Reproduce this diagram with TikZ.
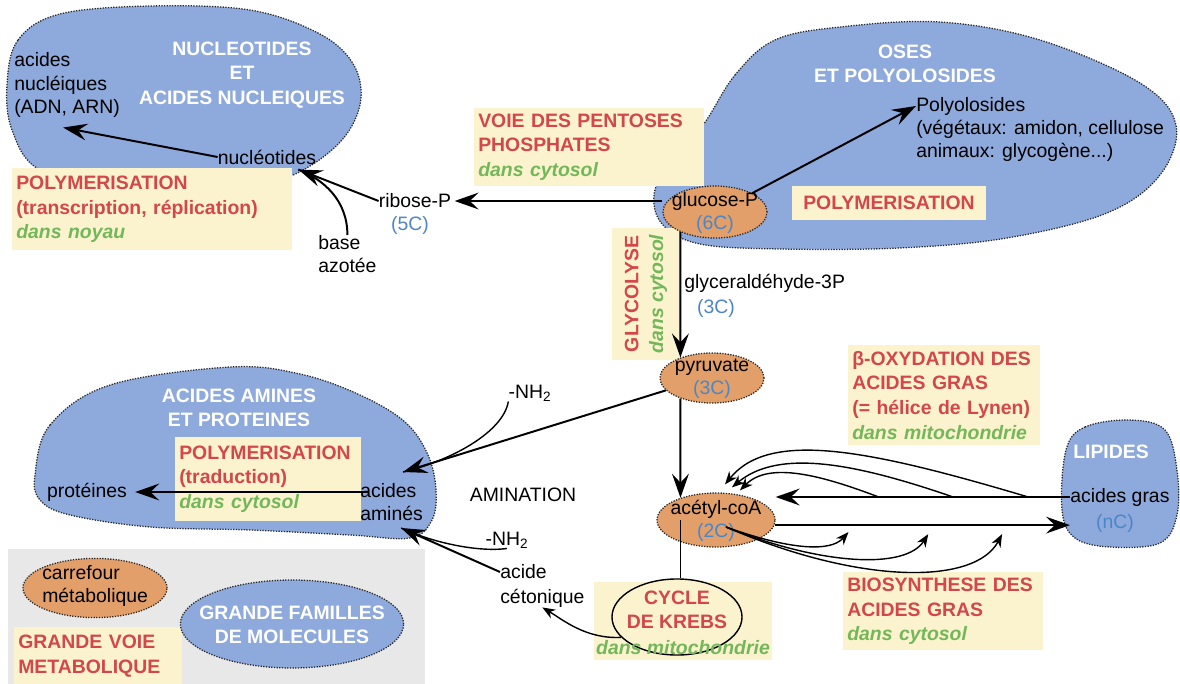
\documentclass[tikz,border=0pt]{standalone}
\usepackage{fontspec}
\setmainfont{Liberation Sans}
\usepackage{tikz}
\usetikzlibrary{arrows.meta,shapes.geometric,calc}

\definecolor{famille}{RGB}{142,169,219}
\definecolor{carrefour}{RGB}{226,159,105}
\definecolor{voie}{RGB}{250,243,206}
\definecolor{rouge}{RGB}{211,71,74}
\definecolor{vert}{RGB}{116,183,90}
\definecolor{bleuC}{RGB}{76,134,199}
\definecolor{gris}{RGB}{232,232,232}

\newcommand{\corps}{\fontsize{13.8}{16.5}\selectfont}
\newcommand{\gras}{\fontsize{13.8}{17.5}\selectfont\bfseries}
\newcommand{\lieu}[1]{{\color{vert}\itshape #1}}
\newcommand{\nbC}[1]{{\color{bleuC}#1}}

\tikzset{
  famille/.style={fill=famille, draw=black!85, densely dotted, line width=0.9pt},
  carref/.style={ellipse, fill=carrefour, draw=black!85, densely dotted, line width=0.9pt},
  voiebox/.style={fill=voie, inner xsep=0.1cm, inner ysep=0pt, align=left, text=rouge, font=\gras},
  titre/.style={text=white, font=\gras, align=center},
  lien/.style={line width=1.4pt},
  fleche/.style={-{Stealth[length=0.6cm, width=0.42cm, inset=0.22cm]}, line width=1.4pt},
  petite/.style={-{Stealth[length=0.32cm, width=0.25cm, inset=0.1cm]}, line width=1pt}
}

\begin{document}
\begin{tikzpicture}[x=0.025cm, y=-0.025cm, font=\corps, inner sep=0pt]
\useasboundingbox (0,0) rectangle (1180,684);
\fill[gris] (8,549) rectangle (425,684);

\draw[famille] plot[smooth cycle, tension=0.6] coordinates {(7,85) (18,40) (60,14) (150,6) (250,10) (318,33) (352,62) (361,98) (346,135) (310,166) (262,186) (200,192) (120,190) (40,170) (12,130)};
\draw[famille] plot[smooth cycle, tension=0.6] coordinates {(703,125) (735,75) (775,40) (840,27) (940,22) (1040,40) (1140,83) (1176,125) (1160,175) (1107,213) (1007,238) (900,248) (780,249) (700,244) (663,225) (654,195) (670,160)};
\draw[famille] plot[smooth cycle, tension=0.6] coordinates {(35,475) (50,425) (110,385) (230,367) (300,374) (360,395) (405,422) (428,455) (436,490) (432,520) (410,538) (350,535) (250,530) (150,527) (70,515) (40,500)};
\draw[famille] plot[smooth cycle, tension=0.6] coordinates {(1066,450) (1085,427) (1130,420) (1165,430) (1177,470) (1177,515) (1160,543) (1110,547) (1075,538) (1062,510)};

\node[voiebox, anchor=north west, minimum width=7cm, minimum height=2.05cm, text width=6.8cm] (polyn) at (12,168) {POLYMERISATION\\(transcription, réplication)\\\lieu{dans noyau}};
\node[voiebox, anchor=north west, minimum width=5.75cm, minimum height=1.93cm, text width=5.55cm] (pentose) at (474,108) {VOIE DES PENTOSES\\PHOSPHATES\\\lieu{dans cytosol}};
\node[voiebox, minimum width=4.85cm, minimum height=0.85cm, align=center] (polyose) at (889,203) {POLYMERISATION};
\node[voiebox, rotate=90, minimum width=3.3cm, minimum height=1.7cm, align=center] (glyco) at (646,294) {GLYCOLYSE\\\lieu{dans cytosol}};
\node[voiebox, anchor=north west, minimum width=4.8cm, minimum height=2.5cm, text width=4.6cm] (betaox) at (848,345) {β-OXYDATION DES\\ACIDES GRAS\\(= hélice de Lynen)\\\lieu{dans mitochondrie}};
\node[voiebox, anchor=north west, minimum width=4.98cm, minimum height=1.95cm, text width=4.78cm] (biosyn) at (843,572) {BIOSYNTHESE DES\\ACIDES GRAS\\\lieu{dans cytosol}};
\node[voiebox, minimum width=4.45cm, minimum height=1.95cm] (kbox) at (683,621) {};
\node[voiebox, anchor=north west, minimum width=4.63cm, minimum height=2.08cm, text width=4.43cm] (trad) at (175,437) {POLYMERISATION\\(traduction)\\\lieu{dans cytosol}};
\node[voiebox, anchor=north west, minimum width=4.18cm, minimum height=1.43cm, text width=3.98cm] (legvoie) at (14,627) {GRANDE VOIE\\METABOLIQUE};

\node[carref, minimum width=2.6cm, minimum height=1.3cm] (glucose) at (715,212) {};
\node[carref, minimum width=2.6cm, minimum height=1.25cm] (pyruvate) at (712,378) {};
\node[carref, minimum width=2.95cm, minimum height=1.35cm] (acetyl) at (716,520) {};
\node[ellipse, draw, fill=voie, line width=1pt, minimum width=3.25cm, minimum height=1.9cm] (krebs) at (677,617) {};
\node[carref, minimum width=3.6cm, minimum height=1.48cm] (legcarr) at (95,588) {};
\node[ellipse, fill=famille, draw=black!85, densely dotted, line width=0.9pt, minimum width=5.58cm, minimum height=2.2cm] (legfam) at (292,624) {};

\node[titre] (ntitre) at (242,75) {NUCLEOTIDES\\ET\\ACIDES NUCLEIQUES};
\node[anchor=west, align=left] (nacides) at (14,85) {acides\\nucléiques\\(ADN, ARN)};
\node (nucleo) at (267,157) {nucléotides};
\node (ribose) at (415,201) {ribose-P};
\node (c5) at (410,225) {\nbC{(5C)}};
\node[anchor=west, align=left] (base) at (318,254) {base\\azotée};
\node[align=center] (glucoset) at (715,213) {glucose-P\\\nbC{(6C)}};
\node[titre] (otitre) at (905,64) {OSES\\ET POLYOLOSIDES};
\node[anchor=west] (polyo) at (916,106) {Polyolosides};
\node[anchor=west, align=left] (polyex) at (916,141) {(végétaux: amidon, cellulose\\animaux: glycogène...)};
\node[anchor=west] (g3p) at (684,283) {glyceraldéhyde-3P};
\node (c3) at (716,308) {\nbC{(3C)}};
\node[align=center] (pyrut) at (712,379) {pyruvate\\\nbC{(3C)}};
\node[align=center] (acetylt) at (716,521) {acétyl-coA\\\nbC{(2C)}};
\node[titre] (lipt) at (1111,452) {LIPIDES};
\node[anchor=west] (agras) at (1070,497) {acides gras};
\node (nc) at (1115,523) {\nbC{(nC)}};
\node[text=rouge, font=\gras, align=center] (krebst) at (677,610) {CYCLE\\DE KREBS};
\node[font=\gras] (kmito) at (683,648) {\lieu{dans mitochondrie}};
\node[anchor=west] (acide) at (500,572) {acide};
\node[anchor=west] (cetonique) at (500,598) {cétonique};
\node (nh1) at (530,393) {-NH\textsubscript{2}};
\node (nh2) at (507,540) {-NH\textsubscript{2}};
\node (amination) at (523,495) {AMINATION};
\node[titre] (atitre) at (239,408) {ACIDES AMINES\\ET PROTEINES};
\node (prot) at (87,492) {protéines};
\node[anchor=west, align=left] (amines) at (360,502) {acides\\aminés};
\node[anchor=west, align=left] (legcarrt) at (42,586) {carrefour\\métabolique};
\node[titre] (legfamt) at (292,625) {GRANDE FAMILLES\\DE MOLECULES};

\coordinate (pnucl) at ($(nucleo.south east)+(-18,5)$);
\draw[fleche] (nucleo.west) -- ($(nacides.south)+(-4,10)$);
\draw[lien] (base.north) .. controls +(0,-35) and +(25,10) .. (pnucl);
\draw[fleche] (ribose.west) -- (pnucl);
\draw[fleche, shorten >=0.08cm] (glucose.west |- ribose) -- (ribose.east);
\draw[fleche] (glucose.north east) -- (polyo.west);
\draw[fleche] (glucose.210) -- (pyruvate.147);
\draw[fleche] (pyruvate.213) -- (acetyl.148);
\draw[line width=1pt] (acetyl.148 |- acetyl.center) -- (krebs.north -| acetyl.148);

\coordinate (aa1) at ($(amines.north east)+(-20,-11)$);
\coordinate (aa2) at ($(amines.south east)+(-22,7)$);
\draw[line width=1pt] (nh1.south west) .. controls +(-5,30) and +(50,-12) .. (aa1);
\draw[fleche] (pyruvate.195) -- (aa1);
\draw[line width=1pt] (nh2.south) .. controls +(-30,4) and +(30,14) .. (aa2);
\draw[fleche] (acide.west) -- (aa2);
\draw[fleche, shorten <=-0.2cm, shorten >=0.2cm] (amines.west |- prot) -- (prot.east);
\draw[petite] (krebs.200) .. controls +(-35,2) and +(20,12) .. (cetonique.south);

\coordinate (gauche) at (agras.west -| acetyl.east);
\coordinate (droite) at (acetyl.355 -| agras.west);
\draw[fleche] (agras.west) -- (gauche);
\draw[fleche] (acetyl.355) -- (droite);
\draw[petite] ($(agras.west)!0.142!(gauche)$) .. controls +(-158,-47) and +(45,-55) .. ($(acetyl.north)+(9,-8)$);
\draw[petite] ($(agras.west)!0.397!(gauche)$) .. controls +(-93,-32) and +(48,-40) .. ($(acetyl.north)+(16,-5)$);
\draw[petite] ($(agras.west)!0.65!(gauche)$) .. controls +(-58,-22) and +(29,-29) .. ($(acetyl.north)+(24,-2)$);
\coordinate (a0) at ($(acetyl.center)+(10,7)$);
\draw[petite] (a0) .. controls +(64,23) and +(-18,20) .. ($(acetyl.355)!0.25!(droite)+(0,7)$);
\draw[petite] (a0) .. controls +(94,38) and +(-23,36) .. ($(acetyl.355)!0.52!(droite)+(0,9)$);
\draw[petite] (a0) .. controls +(134,58) and +(-27,51) .. ($(acetyl.355)!0.77!(droite)+(0,9)$);
\end{tikzpicture}
\end{document}
